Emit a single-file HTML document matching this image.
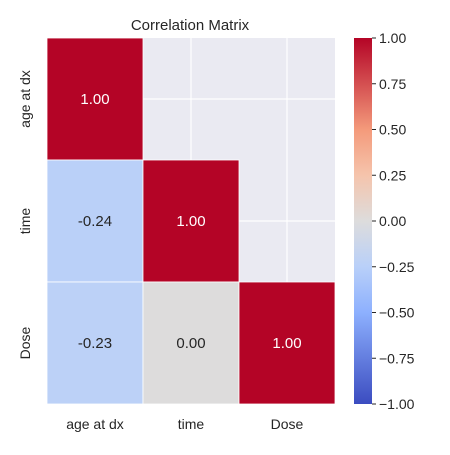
<!DOCTYPE html>
<html><head><meta charset="utf-8"><style>
body{margin:0;background:#fff;font-family:"Liberation Sans","DejaVu Sans",sans-serif}
</style></head><body>
<svg id="chart" width="450" height="450" xmlns="http://www.w3.org/2000/svg">
<defs><linearGradient id="cw" x1="0" y1="1" x2="0" y2="0">
<stop offset="0" stop-color="#3b4cc0"/><stop offset="0.25" stop-color="#8db0fe"/><stop offset="0.375" stop-color="#b9d0f9"/><stop offset="0.5" stop-color="#dddcdc"/><stop offset="0.625" stop-color="#f5c4ac"/><stop offset="0.75" stop-color="#f49a7b"/><stop offset="1" stop-color="#b40426"/></linearGradient></defs>
<text x="190" y="30" text-anchor="middle" font-size="15" fill="#262626">Correlation Matrix</text>
<g id="plot"></g>
<rect x="354" y="38" width="18" height="366" fill="url(#cw)"/>
<g id="cbar"></g>
</svg>
<script>
const labels=["age at dx","time","Dose"];
const matrix=[[1.00,null,null],[-0.24,1.00,null],[-0.23,0.00,1.00]];
const cbTicks=[1.00,0.75,0.50,0.25,0.00,-0.25,-0.50,-0.75,-1.00];
const NS="http://www.w3.org/2000/svg";
const X0=47,Y0=38,CW=96,CH=122,n=labels.length;
const xs=i=>X0+i*CW, ys=i=>Y0+i*CH;
function lerp(a,b,t){return a.map((v,i)=>Math.round(v+(b[i]-v)*t));}
const stops=[[-1,[59,76,192]],[-0.5,[141,176,254]],[-0.25,[185,208,249]],[0,[221,220,220]],[0.25,[245,196,172]],[0.5,[244,154,123]],[1,[180,4,38]]];
function color(v){for(let i=0;i<stops.length-1;i++){if(v<=stops[i+1][0]){const t=(v-stops[i][0])/(stops[i+1][0]-stops[i][0]);return "rgb("+lerp(stops[i][1],stops[i+1][1],t).join(",")+")";}}return "rgb(180,4,38)";}
function mk(tag,attrs,parent){const e=document.createElementNS(NS,tag);for(const k in attrs)e.setAttribute(k,attrs[k]);parent.appendChild(e);return e;}
const g=document.getElementById("plot");
const bg=mk("rect",{x:X0,y:Y0,width:CW*n,height:CH*n,fill:"#eaeaf2"},g);


for(let i=0;i<n;i++){
  const vl=mk("line",{x1:xs(i)+CW/2,x2:xs(i)+CW/2,y1:Y0,y2:Y0+CH*n,stroke:"#fff","stroke-width":1.2},g);
  
  
  const hl=mk("line",{y1:ys(i)+CH/2,y2:ys(i)+CH/2,x1:X0,x2:X0+CW*n,stroke:"#fff","stroke-width":1.2},g);
  
  
}
for(let r=0;r<n;r++)for(let c=0;c<n;c++){
  const v=matrix[r][c]; if(v===null)continue;
  const cell=mk("rect",{x:xs(c),y:ys(r),width:CW,height:CH,fill:color(v),stroke:"#fff","stroke-width":0.8},g);
  
  
  const t=mk("text",{x:xs(c)+CW/2,y:ys(r)+CH/2+5,"text-anchor":"middle","font-size":15,fill:Math.abs(v)>0.6?"#fff":"#262626"},g);
  t.textContent=v.toFixed(2);
  
  
}
for(let i=0;i<n;i++){
  const xl=mk("text",{x:xs(i)+CW/2,y:429,"text-anchor":"middle","font-size":14,fill:"#262626"},g);
  xl.textContent=labels[i];
  
  
  const cy=ys(i)+CH/2;
  const yl=mk("text",{x:30,y:cy,"text-anchor":"middle","font-size":14,fill:"#262626",transform:`rotate(-90 30 ${cy})`},g);
  yl.textContent=labels[i];
  
  
}
const cb=document.getElementById("cbar");
const cbY=v=>Y0+(1-v)/2*366;
cbTicks.forEach(v=>{
  const tk=mk("line",{x1:372,x2:376,y1:cbY(v),y2:cbY(v),stroke:"#262626","stroke-width":1},cb);
  
  
  const tl=mk("text",{x:379,y:cbY(v)+5,"font-size":14,fill:"#262626"},cb);
  tl.textContent=(v<0?"\u2212"+Math.abs(v).toFixed(2):v.toFixed(2));
  
  
});
</script>
</body></html>
